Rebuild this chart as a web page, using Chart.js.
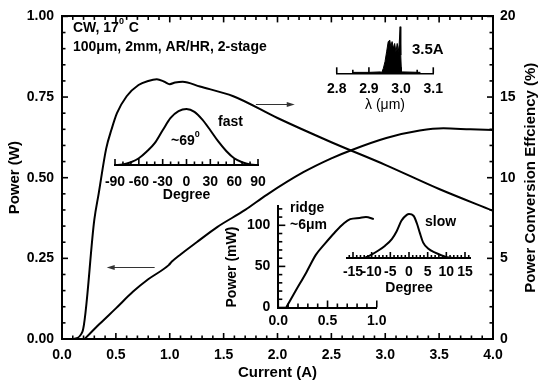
<!DOCTYPE html>
<html>
<head>
<meta charset="utf-8">
<script src="https://cdn.jsdelivr.net/npm/chart.js@4.4.0/dist/chart.umd.min.js"></script>
<style>
  html, body { margin: 0; padding: 0; background: #fff; }
  #wrap { position: relative; width: 542px; height: 386px; overflow: hidden; background: #fff; }
  #wrap canvas { position: absolute; }
  #ticks { pointer-events: none; z-index: 10; }
</style>
</head>
<body>
<div id="wrap">
  <canvas id="main" width="542" height="386" style="left:0px;top:0px"></canvas>
  <canvas id="fast" width="180" height="115" style="left:95px;top:95px"></canvas>
  <canvas id="spec" width="130" height="100" style="left:320px;top:15px"></canvas>
  <canvas id="ridge" width="170" height="145" style="left:222px;top:190px"></canvas>
  <canvas id="slow" width="150" height="100" style="left:335px;top:200px"></canvas>
  <canvas id="ticks" width="542" height="386" style="left:0px;top:0px"></canvas>
</div>
<script>
// main plot: power (W) and power conversion efficiency (%) vs current (A)
const powerCurrent = [0.21, 0.26, 0.35, 0.5, 0.66, 0.8, 0.99, 1.02, 1.1, 1.25, 1.44, 1.7, 1.9, 2.24, 2.5, 2.69, 3.01, 3.32, 3.54, 3.79, 4.0];
const powerW = [0, 0.017, 0.047, 0.095, 0.147, 0.185, 0.229, 0.24, 0.262, 0.3, 0.347, 0.4, 0.447, 0.517, 0.56, 0.586, 0.623, 0.646, 0.653, 0.65, 0.648];
const effCurrent = [0.11, 0.19, 0.3, 0.34, 0.41, 0.46, 0.51, 0.6, 0.71, 0.8, 0.88, 0.95, 1.0, 1.05, 1.12, 1.28, 1.59, 2.0, 2.5, 3.0, 3.5, 4.0];
const effPercent = [0, 0.45, 7.4, 9.0, 11.8, 13.0, 14.0, 15.05, 15.75, 16.0, 16.1, 15.95, 15.8, 15.9, 15.95, 15.65, 15.05, 13.7, 12.2, 10.8, 9.3, 7.95];

// inset: fast-axis far field
const fastAngle = [-90, -80, -70, -60, -50, -40, -30, -20, -10, 0, 10, 20, 30, 40, 50, 60, 70, 80, 90];
const fastValue = [0, 0.01, 0.05, 0.12, 0.24, 0.39, 0.62, 0.84, 0.96, 1.0, 0.95, 0.81, 0.62, 0.42, 0.25, 0.12, 0.05, 0.01, 0];

// inset: spectrum at 3.5 A
const specWavelength = [2.85, 2.9, 2.935, 2.94, 2.945, 2.95, 2.955, 2.96, 2.965, 2.968, 2.972, 2.976, 2.98, 2.984, 2.988, 2.991, 2.994, 2.997, 2.999, 3.001, 3.005, 3.06];
const specValue = [0.02, 0.02, 0.03, 0.02, 0.11, 0.25, 0.46, 0.68, 0.71, 0.57, 0.68, 0.54, 0.64, 0.46, 0.64, 0.46, 0.61, 1.0, 0.39, 0.04, 0.03, 0.02];

// inset: ridge laser L-I
const ridgeCurrent = [0.08, 0.175, 0.286, 0.381, 0.476, 0.571, 0.667, 0.73, 0.826, 0.89, 0.97];
const ridgePower = [0, 20, 43, 64, 78, 91, 102.5, 107.5, 109, 110, 107.5];

// inset: slow-axis far field
const slowAngle = [-12, -10.4, -8.2, -6.4, -4.6, -3.3, -2.0, -0.6, 0, 1.2, 2.1, 2.9, 3.8, 5.2, 7.0, 8.8, 10.1, 12];
const slowValue = [0, 0.06, 0.17, 0.28, 0.43, 0.61, 0.85, 0.98, 1.0, 0.96, 0.79, 0.57, 0.35, 0.21, 0.12, 0.06, 0.02, 0];

const FONT = "'Liberation Sans', Arial, sans-serif";
Chart.defaults.font.family = FONT;
Chart.defaults.font.size = 14;
Chart.defaults.font.weight = 'bold';
Chart.defaults.color = '#000';

const pts = (xs, ys) => xs.map((x, i) => ({x: x, y: ys[i]}));

// annotations on the main chart
const notes = [
  {parts: [['CW, 17'], ['0', 1], [' C']], x: 73, y: 28},
  {parts: [['100\u03bcm, 2mm, AR/HR, 2-stage']], x: 73, y: 47},
  {parts: [['fast']], x: 218, y: 122},
  {parts: [['~69'], ['0', 1]], x: 171, y: 141},
  {parts: [['3.5A']], x: 412, y: 50, size: 15},
  {parts: [['ridge']], x: 290, y: 208},
  {parts: [['~6\u03bcm']], x: 290, y: 225},
  {parts: [['slow']], x: 425, y: 222}
];
const arrows = [
  {from: [1.80, 0.73], to: [2.16, 0.73]},
  {from: [0.86, 0.222], to: [0.415, 0.222]}
];

const notesPlugin = {
  id: 'notes',
  afterDraw(chart) {
    const ctx = chart.ctx;
    const sx = chart.scales.x, sy = chart.scales.y;
    ctx.save();
    ctx.fillStyle = '#000';
    ctx.textBaseline = 'middle';
    ctx.textAlign = 'left';
    notes.forEach(n => {
      let x = n.x;
      n.parts.forEach(p => {
        const size = p[1] ? 9 : (n.size || 14);
        ctx.font = 'bold ' + size + 'px ' + FONT;
        ctx.fillText(p[0], x, p[1] ? n.y - 6 : n.y);
        x += ctx.measureText(p[0]).width + (p[1] ? 1 : 0);
      });
    });
    // arrows pointing to the axis of each curve
    ctx.strokeStyle = '#333';
    ctx.fillStyle = '#333';
    ctx.lineWidth = 1;
    arrows.forEach(a => {
      const x1 = sx.getPixelForValue(a.from[0]), x2 = sx.getPixelForValue(a.to[0]);
      const y = Math.round(sy.getPixelForValue(a.from[1])) + 0.5;
      const d = x2 > x1 ? 1 : -1;
      ctx.beginPath(); ctx.moveTo(x1, y); ctx.lineTo(x2 - d * 6, y); ctx.stroke();
      ctx.beginPath(); ctx.moveTo(x2, y); ctx.lineTo(x2 - d * 8, y - 2.5); ctx.lineTo(x2 - d * 8, y + 2.5); ctx.closePath(); ctx.fill();
    });
    // right axis title, reading bottom to top
    const ca = chart.chartArea;
    ctx.fillStyle = '#000';
    ctx.font = 'bold 15px ' + FONT;
    ctx.textAlign = 'center';
    ctx.translate(531, (ca.top + ca.bottom) / 2);
    ctx.rotate(-Math.PI / 2);
    ctx.fillText('Power Conversion Effciency (%)', 0, 0);
    ctx.restore();
  }
};

const noTicks = {display: false, drawTicks: false};
const axisLine = {color: '#000', width: 2};
function baseOptions(extra) {
  return Object.assign({
    responsive: false,
    animation: false,
    plugins: {legend: {display: false}, tooltip: {enabled: false}},
    elements: {point: {radius: 0}, line: {borderColor: '#000', borderWidth: 2}}
  }, extra);
}

const charts = {};

charts.main = new Chart(document.getElementById('main'), {
  type: 'line',
  data: {
    datasets: [
      {data: pts(powerCurrent, powerW), yAxisID: 'y', cubicInterpolationMode: 'monotone'},
      {data: pts(effCurrent, effPercent), yAxisID: 'y2', cubicInterpolationMode: 'monotone'}
    ]
  },
  options: baseOptions({
    layout: {padding: {top: 6, left: 0, right: 0, bottom: 0}},
    scales: {
      x: {type: 'linear', position: 'bottom', min: 0, max: 4,
        ticks: {stepSize: 0.5, padding: 8, maxRotation: 0, autoSkip: false, callback: v => v.toFixed(1)},
        grid: noTicks, border: axisLine,
        title: {display: true, text: 'Current (A)', font: {size: 15}, padding: {top: 0, bottom: 4.5}},
        afterFit: s => { s.height = 47; }},
      xTop: {type: 'linear', position: 'top', min: 0, max: 4,
        ticks: {display: false}, grid: noTicks, border: axisLine,
        afterFit: s => { s.height = 0; }},
      y: {type: 'linear', position: 'left', min: 0, max: 1,
        ticks: {stepSize: 0.25, padding: 8, callback: v => v.toFixed(2)},
        grid: noTicks, border: axisLine,
        title: {display: true, text: 'Power (W)', font: {size: 15}, padding: {top: 6, bottom: 0}},
        afterFit: s => { s.width = 62; }},
      y2: {type: 'linear', position: 'right', min: 0, max: 20,
        ticks: {stepSize: 5, padding: 7},
        grid: noTicks, border: axisLine,
        afterFit: s => { s.width = 49; }}
    }
  }),
  plugins: [notesPlugin]
});

charts.fast = new Chart(document.getElementById('fast'), {
  type: 'line',
  data: {datasets: [{data: pts(fastAngle, fastValue), cubicInterpolationMode: 'monotone', clip: false}]},
  options: baseOptions({
    layout: {padding: {left: 20, right: 17, top: 14, bottom: 0}},
    scales: {
      x: {type: 'linear', min: -90, max: 90,
        ticks: {stepSize: 30, padding: 9, maxRotation: 0, autoSkip: false},
        grid: noTicks, border: axisLine,
        title: {display: true, text: 'Degree', padding: {top: 0, bottom: 6.6}},
        afterFit: s => { s.height = 45; }},
      y: {display: false, min: 0, max: 1}
    }
  })
});

charts.spec = new Chart(document.getElementById('spec'), {
  type: 'line',
  data: {datasets: [{data: pts(specWavelength, specValue), borderWidth: 1, tension: 0, fill: 'origin', backgroundColor: '#000', clip: false}]},
  options: baseOptions({
    layout: {padding: {left: 16.7, right: 13.3, top: 11.7, bottom: 0}},
    scales: {
      x: {type: 'linear', min: 2.8, max: 3.1,
        ticks: {stepSize: 0.1, padding: 7, maxRotation: 0, autoSkip: false, callback: v => v.toFixed(1)},
        grid: noTicks, border: {color: '#000', width: 1.5},
        title: {display: true, text: '\u03bb (\u03bcm)', font: {weight: 'normal'}, padding: {top: 0, bottom: 1.6}},
        afterFit: s => { s.height = 41.7; }},
      y: {display: false, min: 0, max: 1}
    }
  })
});

charts.ridge = new Chart(document.getElementById('ridge'), {
  type: 'line',
  data: {datasets: [{data: pts(ridgeCurrent, ridgePower), cubicInterpolationMode: 'monotone', clip: false}]},
  options: baseOptions({
    layout: {padding: {left: 0, right: 8.7, top: 10.5, bottom: 0}},
    scales: {
      x: {type: 'linear', min: 0, max: 1,
        ticks: {stepSize: 0.5, padding: 5.5, maxRotation: 0, autoSkip: false, callback: v => v.toFixed(1)},
        grid: noTicks, border: axisLine,
        afterFit: s => { s.height = 27.5; }},
      y: {type: 'linear', min: 0, max: 123,
        ticks: {stepSize: 50, padding: 8, includeBounds: false},
        grid: noTicks, border: axisLine,
        title: {display: true, text: 'Power (mW)', align: 'start', padding: {top: 1.6, bottom: 0}},
        afterFit: s => { s.width = 56.3; }}
    }
  })
});

charts.slow = new Chart(document.getElementById('slow'), {
  type: 'line',
  data: {datasets: [{data: pts(slowAngle, slowValue), cubicInterpolationMode: 'monotone', clip: false}]},
  options: baseOptions({
    layout: {padding: {left: 12.4, right: 14.4, top: 14, bottom: 0}},
    scales: {
      x: {type: 'linear', min: -16.5, max: 16.5,
        ticks: {stepSize: 5, padding: 5.7, maxRotation: 0, autoSkip: false, includeBounds: false},
        grid: noTicks, border: axisLine,
        title: {display: true, text: 'Degree', padding: {top: 0, bottom: 3.6}},
        afterFit: s => { s.height = 42; }},
      y: {display: false, min: 0, max: 1}
    }
  })
});

// inward tick marks: major + minor, placed with each chart's own scales,
// drawn on a transparent layer above all the charts
const tickSpecs = [
  {chart: 'main', axis: 'x', side: 'bottom', from: 0, to: 4, step: 0.1, major: 0.5, len: 6, minor: 3.5},
  {chart: 'main', axis: 'x', side: 'top', from: 0, to: 4, step: 0.1, major: 0.5, len: 6, minor: 3.5},
  {chart: 'main', axis: 'y', side: 'left', from: 0, to: 1, step: 0.05, major: 0.25, len: 6, minor: 3.5},
  {chart: 'main', axis: 'y2', side: 'right', from: 0, to: 20, step: 1, major: 5, len: 6, minor: 3.5},
  {chart: 'fast', axis: 'x', side: 'bottom', from: -90, to: 90, step: 10, major: 30, len: 6, minor: 3.5},
  {chart: 'spec', axis: 'x', side: 'bottom', from: 2.8, to: 3.1, step: 0.05, major: 0.1, len: 6, minor: 3.5},
  {chart: 'ridge', axis: 'x', side: 'bottom', from: 0, to: 1, step: 0.1, major: 0.5, len: 7, minor: 4},
  {chart: 'ridge', axis: 'y', side: 'left', from: 0, to: 120, step: 10, major: 50, len: 7, minor: 4},
  {chart: 'slow', axis: 'x', side: 'bottom', from: -16, to: 16, step: 1, major: 5, len: 6, minor: 3}
];

function drawTicks() {
  const layer = document.getElementById('ticks');
  const ctx = layer.getContext('2d');
  ctx.clearRect(0, 0, layer.width, layer.height);
  ctx.strokeStyle = '#000';
  ctx.lineWidth = 1.6;
  tickSpecs.forEach(t => {
    const chart = charts[t.chart];
    const ox = chart.canvas.offsetLeft, oy = chart.canvas.offsetTop;
    const ca = chart.chartArea;
    const s = chart.scales[t.axis];
    const n = Math.round((t.to - t.from) / t.step);
    for (let i = 0; i <= n; i++) {
      const v = t.from + i * t.step;
      const r = v / t.major;
      const len = Math.abs(r - Math.round(r)) < 1e-6 ? t.len : t.minor;
      const p = s.getPixelForValue(v);
      ctx.beginPath();
      if (t.side === 'bottom') { ctx.moveTo(ox + p, oy + ca.bottom); ctx.lineTo(ox + p, oy + ca.bottom - len); }
      else if (t.side === 'top') { ctx.moveTo(ox + p, oy + ca.top); ctx.lineTo(ox + p, oy + ca.top + len); }
      else if (t.side === 'left') { ctx.moveTo(ox + ca.left, oy + p); ctx.lineTo(ox + ca.left + len, oy + p); }
      else { ctx.moveTo(ox + ca.right, oy + p); ctx.lineTo(ox + ca.right - len, oy + p); }
      ctx.stroke();
    }
  });
}
drawTicks();
</script>
</body>
</html>
